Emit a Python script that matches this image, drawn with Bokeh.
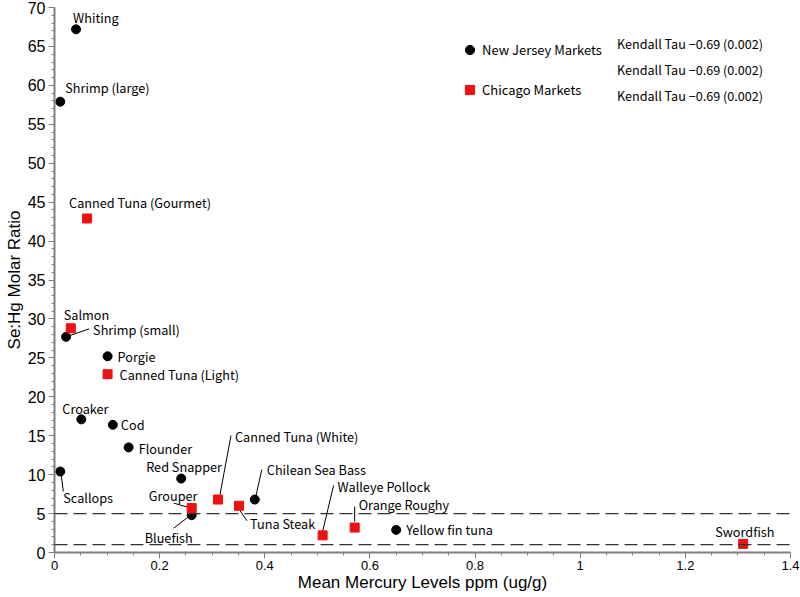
from bokeh.plotting import figure
from bokeh.models import Span, Legend, LegendItem, Label, FixedTicker, ColumnDataSource, Range1d
from bokeh.embed import file_html
from bokeh.resources import INLINE
from bokeh.core.properties import value

# ---- data ----
nj_names = ["Whiting", "Shrimp (large)", "Shrimp (small)", "Porgie", "Croaker", "Cod",
            "Flounder", "Scallops", "Red Snapper", "Bluefish", "Chilean Sea Bass", "Yellow fin tuna"]
nj_hg = [0.041, 0.011, 0.022, 0.101, 0.051, 0.111, 0.141, 0.011, 0.241, 0.261, 0.381, 0.650]
nj_ratio = [67.2, 57.9, 27.7, 25.2, 17.1, 16.4, 13.5, 10.4, 9.5, 4.8, 6.8, 2.9]

chi_names = ["Canned Tuna (Gourmet)", "Salmon", "Canned Tuna (Light)", "Grouper",
             "Canned Tuna (White)", "Tuna Steak", "Walleye Pollock", "Orange Roughy", "Swordfish"]
chi_hg = [0.062, 0.031, 0.101, 0.261, 0.311, 0.351, 0.510, 0.571, 1.310]
chi_ratio = [42.9, 28.8, 22.9, 5.7, 6.8, 6.0, 2.2, 3.2, 1.1]

thresholds = [5, 1]
stats_text = ["Kendall Tau \u22120.69 (0.002)"] * 3
x_ticks = [0, 0.2, 0.4, 0.6, 0.8, 1, 1.2, 1.4]
y_ticks = [0, 5, 10, 15, 20, 25, 30, 35, 40, 45, 50, 55, 60, 65, 70]
x_title = "Mean Mercury Levels ppm (ug/g)"
y_title = "Se:Hg Molar Ratio"

# label placement: pixel offsets (dx, dy) of text from point, optional leader (x0,y0,x1,y1) in pixels
label_offsets = {
    "Whiting": (-3, -12, None),
    "Shrimp (large)": (5, -14, None),
    "Canned Tuna (Gourmet)": (-18, -16, None),
    "Salmon": (-7, -14, None),
    "Shrimp (small)": (27, -7, (3, -1, 23, -8)),
    "Porgie": (10, 0, None),
    "Canned Tuna (Light)": (12, 0, None),
    "Croaker": (-19, -11, None),
    "Cod": (8, 0, None),
    "Flounder": (10, 1, None),
    "Scallops": (3, 26, (1, 4, 3, 20)),
    "Red Snapper": (-35, -12, None),
    "Grouper": (-43, -13, (-18, -5, -1, 0)),
    "Bluefish": (-47, 22, (-18, 13, -1, 0)),
    "Canned Tuna (White)": (17, -63, (13, -64, 2, -5)),
    "Tuna Steak": (11, 18, (1, 5, 8, 15)),
    "Chilean Sea Bass": (12, -30, (7, -30, 1, -3)),
    "Walleye Pollock": (15, -49, (11, -50, 0, -4)),
    "Orange Roughy": (4, -23, (0, -21, 0, -6)),
    "Yellow fin tuna": (10, 0, None),
    "Swordfish": (-28, -12, None),
}

W, H = 800, 597
ML, MR, MT, MB = 54, 10, 7, 45
FW, FH = W - ML - MR, H - MT - MB
XMAX, YMAX = 1.4, 70
sx, sy = FW / XMAX, FH / YMAX

p = figure(width=W, height=H, output_backend="svg", toolbar_location=None,
           x_range=Range1d(0, XMAX), y_range=Range1d(0, YMAX),
           min_border_left=ML, min_border_right=MR, min_border_top=MT, min_border_bottom=MB)
p.outline_line_color = None
p.grid.visible = False
p.background_fill_color = "white"

lab_font = value("Noto Sans CJK JP")

for y in thresholds:
    p.add_layout(Span(location=y, dimension="width", line_color="#333333", line_width=1.3, line_dash="13 6"))

# leader lines
lx0, ly0, lx1, ly1 = [], [], [], []
for names, xs, ys in ((nj_names, nj_hg, nj_ratio), (chi_names, chi_hg, chi_ratio)):
    for n, xv, yv in zip(names, xs, ys):
        dx, dy, lead = label_offsets[n]
        if lead:
            a, b, c, d = lead
            lx0.append(xv + a / sx); ly0.append(yv - b / sy)
            lx1.append(xv + c / sx); ly1.append(yv - d / sy)
p.segment(lx0, ly0, lx1, ly1, line_color="black", line_width=1)

nj_src = ColumnDataSource(dict(x=nj_hg, y=nj_ratio, name=nj_names,
                               dx=[label_offsets[n][0] for n in nj_names],
                               dy=[label_offsets[n][1] for n in nj_names]))
chi_src = ColumnDataSource(dict(x=chi_hg, y=chi_ratio, name=chi_names,
                                dx=[label_offsets[n][0] for n in chi_names],
                                dy=[label_offsets[n][1] for n in chi_names]))

r_nj = p.scatter("x", "y", source=nj_src, marker="circle", size=9, fill_color="black", line_color="black")
r_chi = p.scatter("x", "y", source=chi_src, marker="square", size=9, fill_color="#ee1111", line_color="#ee1111")

for src in (nj_src, chi_src):
    p.text("x", "y", text="name", source=src, x_offset="dx", y_offset="dy",
           text_font=lab_font, text_font_size="12.7px", text_baseline="middle", text_align="left",
           text_color="black")

# stats texts
stat_y = [65.4, 62.0, 58.7]
for t, yy in zip(stats_text, stat_y):
    p.add_layout(Label(x=1.070, y=yy, text=t, text_font="Noto Sans CJK JP", text_font_size="12.6px",
                       text_baseline="middle", text_color="black"))

legend = Legend(items=[LegendItem(label="New Jersey Markets", renderers=[r_nj]),
                       LegendItem(label="Chicago Markets", renderers=[r_chi])],
                location=(404, 451), orientation="vertical",
                border_line_alpha=0, background_fill_alpha=0, padding=0, margin=0,
                spacing=17, glyph_width=23, glyph_height=23, label_height=23, label_standoff=1,
                label_text_font="Noto Sans CJK JP", label_text_font_size="13px",
                label_text_color="black")
p.add_layout(legend, "center")

# axes
ax_col = "#7f7f7f"
p.xaxis.ticker = FixedTicker(ticks=x_ticks, minor_ticks=[i * 0.05 for i in range(29)])
p.yaxis.ticker = FixedTicker(ticks=y_ticks, minor_ticks=list(range(0, 71)))
p.xaxis.major_label_overrides = {0: "0", 1: "1"}
for ax in (p.xaxis[0], p.yaxis[0]):
    ax.axis_line_color = ax_col
    ax.axis_line_width = 2
    ax.major_tick_line_color = ax_col
    ax.minor_tick_line_color = ax_col
    ax.major_tick_line_width = 1
    ax.major_tick_in = 0
    ax.minor_tick_in = 0
    ax.major_tick_out = 6
    ax.minor_tick_out = 3
    ax.major_label_text_font = "Liberation Sans"
    ax.major_label_text_color = "black"
    ax.axis_label_text_font = "Liberation Sans"
    ax.axis_label_text_font_style = "normal"
    ax.axis_label_text_color = "black"
    ax.axis_label_text_font_size = "17px"
p.xaxis.major_label_text_font_size = "13px"
p.yaxis.major_label_text_font_size = "16px"
p.xaxis.major_label_standoff = 2
p.xaxis.axis_label_standoff = 0
p.yaxis.major_label_standoff = 3
p.yaxis.axis_label_standoff = 1
p.xaxis.axis_label = x_title
p.yaxis.axis_label = y_title

open("out.html", "w").write(file_html(p, INLINE))
